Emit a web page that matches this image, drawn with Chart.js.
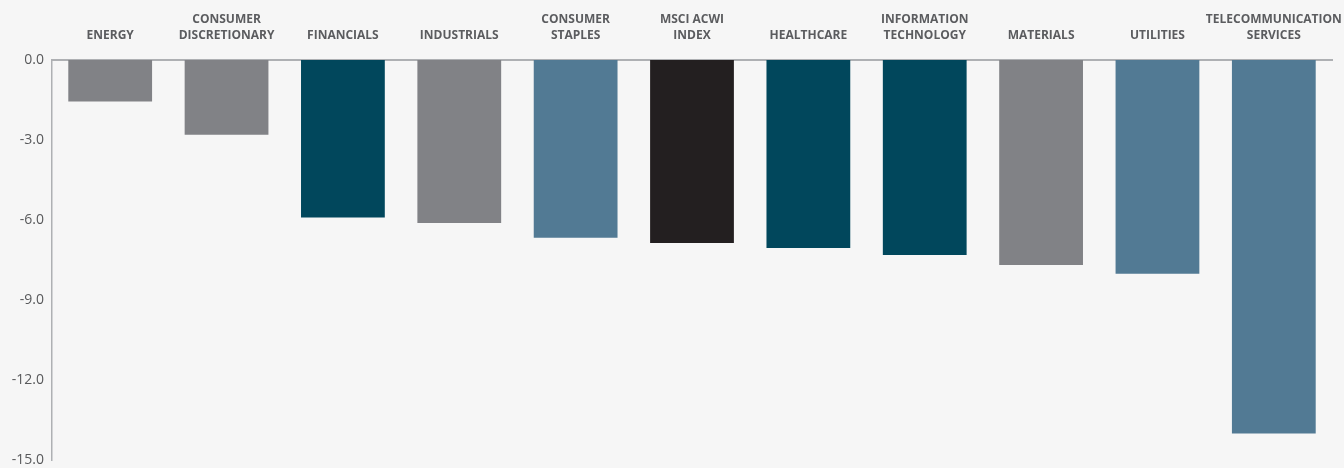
<!DOCTYPE html>
<html>
<head>
<meta charset="utf-8">
<script src="https://cdn.jsdelivr.net/npm/chart.js@4.4.1/dist/chart.umd.min.js"></script>
<style>
  html, body { margin: 0; padding: 0; background: #f6f6f6; }
  #wrap { width: 1344px; height: 468px; }
</style>
</head>
<body>
<div id="wrap"><canvas id="barChart"></canvas></div>
<script>
// sectors, returns (%), bar colours
var sectors = [
    "ENERGY",
    ["CONSUMER", "DISCRETIONARY"],
    "FINANCIALS",
    "INDUSTRIALS",
    ["CONSUMER", "STAPLES"],
    ["MSCI ACWI", "INDEX"],
    "HEALTHCARE",
    ["INFORMATION", "TECHNOLOGY"],
    "MATERIALS",
    "UTILITIES",
    ["TELECOMMUNICATION", "SERVICES"]
];
var returns = [-1.56, -2.80, -5.91, -6.11, -6.67, -6.86, -7.05, -7.31, -7.69, -8.02, -14.01];
var barColors = ["#818286", "#818286", "#01475c", "#818286", "#527a94", "#231f20",
                 "#01475c", "#01475c", "#818286", "#527a94", "#527a94"];
var yTicks = [0, -3, -6, -9, -12, -15];

var ctx = document.getElementById("barChart").getContext("2d");
new Chart(ctx, {
    type: "bar",
    data: {
        labels: sectors,
        datasets: [{
            data: returns,
            backgroundColor: barColors,
            barPercentage: 0.72,
            categoryPercentage: 1.0
        }]
    },
    options: {
        responsive: true,
        maintainAspectRatio: false,
        animation: false,
        layout: { padding: { left: 0, right: 12, top: 0, bottom: 8 } },
        plugins: {
            legend: { display: false },
            tooltip: { enabled: false }
        },
        scales: {
            x: {
                position: "top",
                grid: { display: false, drawTicks: false },
                border: { display: true, color: "#aeb0b3", width: 2 },
                ticks: {
                    color: "#5b5c5f",
                    padding: 17,
                    maxRotation: 0,
                    autoSkip: false,
                    font: { family: "Open Sans", size: 12, weight: "bold", lineHeight: 1.28 }
                },
                afterFit: function (scale) {
                    scale.height = 60;
                    scale.paddingLeft = 0;
                    scale.paddingRight = 0;
                }
            },
            y: {
                min: -15,
                max: 0,
                afterBuildTicks: function (scale) {
                    scale.ticks = yTicks.map(function (v) { return { value: v }; });
                },
                grid: { display: false, drawTicks: false },
                border: { display: true, color: "#aeb0b3", width: 1.5 },
                ticks: {
                    color: "#58595b",
                    padding: 8,
                    font: { family: "Open Sans", size: 14 },
                    callback: function (v) { return v.toFixed(1); }
                },
                afterFit: function (scale) {
                    scale.width = 52;
                    scale.paddingTop = 0;
                    scale.paddingBottom = 0;
                }
            }
        }
    }
});
</script>
</body>
</html>
